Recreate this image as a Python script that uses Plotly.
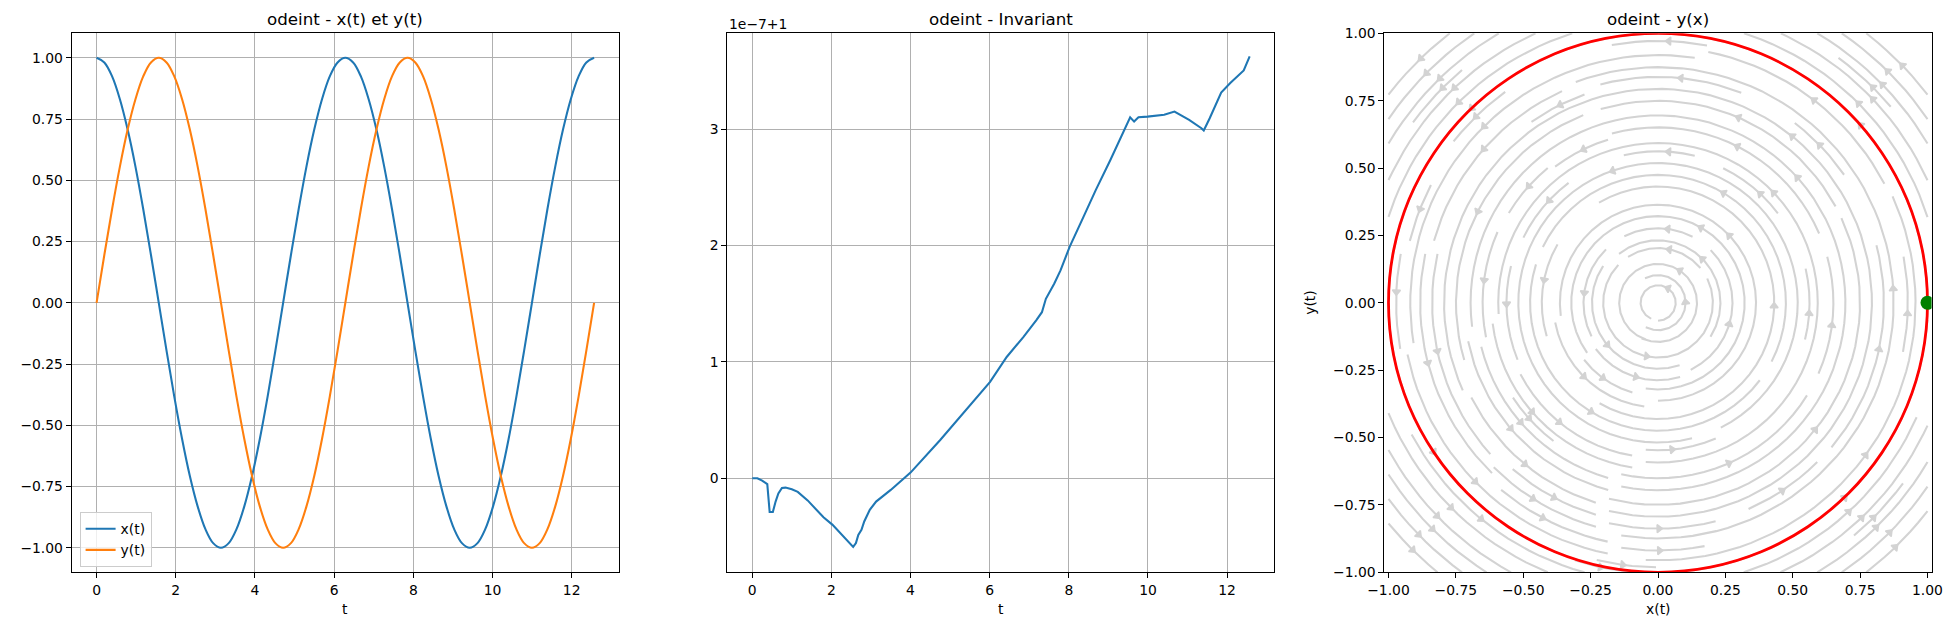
import numpy as np
import plotly.graph_objects as go

# ---------------- data ----------------
t_vals = [0.0, 0.196, 0.393, 0.589, 0.785, 0.982, 1.178, 1.374, 1.571, 1.767, 1.963,
          2.160, 2.356, 2.553, 2.749, 2.945, 3.142, 3.338, 3.534, 3.731, 3.927, 4.123,
          4.320, 4.516, 4.712, 4.909, 5.105, 5.301, 5.498, 5.694, 5.890, 6.087, 6.283,
          6.480, 6.676, 6.872, 7.069, 7.265, 7.461, 7.658, 7.854, 8.050, 8.247, 8.443,
          8.639, 8.836, 9.032, 9.228, 9.425, 9.621, 9.817, 10.014, 10.210, 10.407,
          10.603, 10.799, 10.996, 11.192, 11.388, 11.585, 11.781, 11.977, 12.174,
          12.370, 12.566]
x_vals = [1.0, 0.981, 0.924, 0.831, 0.707, 0.556, 0.383, 0.195, 0.0, -0.195, -0.383,
          -0.556, -0.707, -0.831, -0.924, -0.981, -1.0,
          -0.981, -0.924, -0.831, -0.707, -0.556, -0.383, -0.195, 0.0, 0.195, 0.383,
          0.556, 0.707, 0.831, 0.924, 0.981, 1.0,
          0.981, 0.924, 0.831, 0.707, 0.556, 0.383, 0.195, 0.0, -0.195, -0.383,
          -0.556, -0.707, -0.831, -0.924, -0.981, -1.0,
          -0.981, -0.924, -0.831, -0.707, -0.556, -0.383, -0.195, 0.0, 0.195, 0.383,
          0.556, 0.707, 0.831, 0.924, 0.981, 1.0]
y_vals = [0.0, 0.195, 0.383, 0.556, 0.707, 0.831, 0.924, 0.981, 1.0,
          0.981, 0.924, 0.831, 0.707, 0.556, 0.383, 0.195, 0.0,
          -0.195, -0.383, -0.556, -0.707, -0.831, -0.924, -0.981, -1.0,
          -0.981, -0.924, -0.831, -0.707, -0.556, -0.383, -0.195, 0.0,
          0.195, 0.383, 0.556, 0.707, 0.831, 0.924, 0.981, 1.0,
          0.981, 0.924, 0.831, 0.707, 0.556, 0.383, 0.195, 0.0,
          -0.195, -0.383, -0.556, -0.707, -0.831, -0.924, -0.981, -1.0,
          -0.981, -0.924, -0.831, -0.707, -0.556, -0.383, -0.195, 0.0]

# invariant x^2+y^2, shown as offset from 1 in units of 1e-7
inv_t = [0, 0.13, 0.25, 0.38, 0.44, 0.52, 0.59, 0.66, 0.75, 0.84, 1.0, 1.15, 1.4, 1.61,
         1.8, 2.03, 2.25, 2.45, 2.55, 2.62, 2.68, 2.76, 2.83, 2.97, 3.13, 3.5, 4.0, 4.75,
         5.59, 6.01, 6.43, 6.85, 7.18, 7.32, 7.42, 7.63, 7.79, 8.02, 8.37, 8.68, 9.05,
         9.36, 9.55, 9.65, 9.76, 9.99, 10.41, 10.67, 11.04, 11.35, 11.41, 11.56, 11.85,
         12.08, 12.42, 12.57]
inv_dev = [0.0, 0.0, -0.02, -0.05, -0.29, -0.29, -0.2, -0.13, -0.083, -0.08, -0.095,
           -0.117, -0.19, -0.27, -0.335, -0.40, -0.48, -0.557, -0.59, -0.557, -0.486,
           -0.443, -0.371, -0.271, -0.2, -0.1, 0.049, 0.329, 0.657, 0.829, 1.043, 1.214,
           1.36, 1.428, 1.543, 1.672, 1.787, 1.989, 2.247, 2.477, 2.736, 2.966, 3.103,
           3.066, 3.103, 3.109, 3.124, 3.152, 3.08, 3.009, 2.989, 3.095, 3.316, 3.397,
           3.506, 3.626]

start_point = ([1.0], [0.0])

t_ticks = [0, 2, 4, 6, 8, 10, 12]
xy_ticks = [-1.0, -0.75, -0.5, -0.25, 0.0, 0.25, 0.5, 0.75, 1.0]
inv_ticks = [0, 1, 2, 3]

titles = ["odeint - x(t) et y(t)", "odeint - Invariant", "odeint - y(x)"]

# vector field of the ODE: dx/dt = -y, dy/dt = x
grid_n = 20
grid_x = np.linspace(-1, 1, grid_n)
grid_y = np.linspace(-1, 1, grid_n)
GX, GY = np.meshgrid(grid_x, grid_y)
U = -GY
V = GX
stream_density = 1.5


# ---------------- streamline computation (matplotlib-like algorithm) ----------------
class _Invalid(Exception):
    pass


class _OOB(Exception):
    pass


class _Term(Exception):
    pass


def compute_streamlines(gx, gy, U, V, density):
    ny, nx = U.shape
    dx = gx[1] - gx[0]
    dy = gy[1] - gy[0]
    mnx = int(30 * density)
    mny = int(30 * density)
    mask = np.zeros((mny, mnx), dtype=int)
    g2m_x = (mnx - 1) / (nx - 1)
    g2m_y = (mny - 1) / (ny - 1)
    ug = U / dx
    vg = V / dy
    spd = np.sqrt((ug / (nx - 1)) ** 2 + (vg / (ny - 1)) ** 2)
    state = {"traj": [], "cur": None}

    def within(xi, yi):
        return 0 <= xi <= nx - 1 and 0 <= yi <= ny - 1

    def interp(a, xi, yi):
        x = int(xi)
        y = int(yi)
        xn = x if x == nx - 1 else x + 1
        yn = y if y == ny - 1 else y + 1
        xt = xi - x
        yt = yi - y
        a0 = a[y, x] * (1 - xt) + a[y, xn] * xt
        a1 = a[yn, x] * (1 - xt) + a[yn, xn] * xt
        return a0 * (1 - yt) + a1 * yt

    def g2m(xi, yi):
        return round(xi * g2m_x), round(yi * g2m_y)

    def mask_update(xm, ym):
        if state["cur"] != (xm, ym):
            if mask[ym, xm] == 0:
                state["traj"].append((ym, xm))
                mask[ym, xm] = 1
                state["cur"] = (xm, ym)
            else:
                raise _Invalid

    def update_traj(xi, yi):
        if not within(xi, yi):
            raise _Invalid
        xm, ym = g2m(xi, yi)
        mask_update(xm, ym)

    def fwd(xi, yi):
        if not within(xi, yi):
            raise _OOB
        s = interp(spd, xi, yi)
        if s == 0:
            raise _Term
        return interp(ug, xi, yi) / s, interp(vg, xi, yi) / s

    def bwd(xi, yi):
        a, b = fwd(xi, yi)
        return -a, -b

    def euler(traj, f):
        xi, yi = traj[-1]
        cx, cy = f(xi, yi)
        if cx == 0:
            dsx = np.inf
        elif cx < 0:
            dsx = xi / -cx
        else:
            dsx = (nx - 1 - xi) / cx
        if cy == 0:
            dsy = np.inf
        elif cy < 0:
            dsy = yi / -cy
        else:
            dsy = (ny - 1 - yi) / cy
        ds = min(dsx, dsy)
        traj.append((xi + cx * ds, yi + cy * ds))
        return ds

    def rk12(x0, y0, f, maxlength=4.0):
        maxerror = 0.003
        maxds = min(1.0 / mnx, 1.0 / mny, 0.1)
        ds = maxds
        stotal = 0.0
        xi, yi = x0, y0
        traj = []
        while True:
            try:
                if within(xi, yi):
                    traj.append((xi, yi))
                else:
                    raise _OOB
                k1x, k1y = f(xi, yi)
                k2x, k2y = f(xi + ds * k1x, yi + ds * k1y)
            except _OOB:
                if traj:
                    try:
                        stotal += euler(traj, f)
                    except (_OOB, _Term):
                        pass
                break
            except _Term:
                break
            dx1 = ds * k1x
            dy1 = ds * k1y
            dx2 = ds * 0.5 * (k1x + k2x)
            dy2 = ds * 0.5 * (k1y + k2y)
            err = np.hypot((dx2 - dx1) / (nx - 1), (dy2 - dy1) / (ny - 1))
            if err < maxerror:
                xi += dx2
                yi += dy2
                try:
                    update_traj(xi, yi)
                except _Invalid:
                    break
                if stotal + ds > maxlength:
                    break
                stotal += ds
            if err == 0:
                ds = maxds
            else:
                ds = min(maxds, 0.85 * ds * (maxerror / err) ** 0.5)
        return stotal, traj

    def integrate(x0, y0, minlength=0.1):
        state["traj"] = []
        try:
            xm, ym = g2m(x0, y0)
            mask_update(xm, ym)
        except _Invalid:
            return None
        stotal = 0.0
        out = []
        s, t = rk12(x0, y0, bwd)
        stotal += s
        out += t[::-1]
        state["cur"] = g2m(x0, y0)
        s, t = rk12(x0, y0, fwd)
        stotal += s
        out += t[1:]
        if stotal > minlength:
            return out
        for c in state["traj"]:
            mask[c] = 0
        return None

    def seeds(shape):
        sny, snx = shape
        xfirst, yfirst = 0, 1
        xlast, ylast = snx - 1, sny - 1
        x, y = 0, 0
        direction = "right"
        for _ in range(snx * sny):
            yield x, y
            if direction == "right":
                x += 1
                if x >= xlast:
                    xlast -= 1
                    direction = "up"
            elif direction == "up":
                y += 1
                if y >= ylast:
                    ylast -= 1
                    direction = "left"
            elif direction == "left":
                x -= 1
                if x <= xfirst:
                    xfirst += 1
                    direction = "down"
            elif direction == "down":
                y -= 1
                if y <= yfirst:
                    yfirst += 1
                    direction = "right"

    trajectories = []
    for xm, ym in seeds(mask.shape):
        if mask[ym, xm] == 0:
            xg0 = xm / g2m_x
            yg0 = ym / g2m_y
            tr = integrate(xg0, yg0)
            if tr is not None:
                trajectories.append(tr)

    lines_x, lines_y, arrows = [], [], []
    for tr in trajectories:
        arr = np.array(tr)
        tx = gx[0] + arr[:, 0] * dx
        ty = gy[0] + arr[:, 1] * dy
        lines_x += list(tx) + [None]
        lines_y += list(ty) + [None]
        s = np.cumsum(np.hypot(np.diff(tx), np.diff(ty)))
        if len(s) == 0:
            continue
        n = int(np.searchsorted(s, s[-1] / 2.0))
        tail = (tx[n], ty[n])
        head = (np.mean(tx[n:n + 2]), np.mean(ty[n:n + 2]))
        arrows.append((tail, head))
    return lines_x, lines_y, arrows


sl_x, sl_y, sl_arrows = compute_streamlines(grid_x, grid_y, U, V, stream_density)

# ---------------- layout geometry ----------------
W, H = 1955, 627
dom_x = [[71.7 / W, 619.0 / W], [727.4 / W, 1274.4 / W], [1384.4 / W, 1931.6 / W]]
dom_y = [1 - 572.3 / H, 1 - 33.3 / H]
px_per_unit3 = 539.0 / 2.0   # panel 3 pixels per data unit

arrow_x, arrow_y, arrow_ang = [], [], []
r_tip = 3.5 / px_per_unit3
for (tail, head) in sl_arrows:
    ddx = head[0] - tail[0]
    ddy = head[1] - tail[1]
    nrm = np.hypot(ddx, ddy)
    if nrm == 0:
        continue
    ux, uy = ddx / nrm, ddy / nrm
    arrow_x.append(head[0] - ux * r_tip)
    arrow_y.append(head[1] - uy * r_tip)
    arrow_ang.append(float(np.degrees(np.arctan2(ux, uy))))

BLUE = "#1f77b4"
ORANGE = "#ff7f0e"
GRAY = "#d3d3d3"
FONT = "DejaVu Sans"
lw = 2.08

fig = go.Figure()

# panel 1
fig.add_trace(go.Scatter(x=t_vals, y=x_vals, mode="lines", name="x(t)",
                         line=dict(color=BLUE, width=lw, shape="spline"),
                         xaxis="x", yaxis="y"))
fig.add_trace(go.Scatter(x=t_vals, y=y_vals, mode="lines", name="y(t)",
                         line=dict(color=ORANGE, width=lw, shape="spline"),
                         xaxis="x", yaxis="y"))
# panel 2
fig.add_trace(go.Scatter(x=inv_t, y=inv_dev, mode="lines", showlegend=False,
                         line=dict(color=BLUE, width=lw),
                         xaxis="x2", yaxis="y2"))
# panel 3
fig.add_trace(go.Scatter(x=sl_x, y=sl_y, mode="lines", showlegend=False,
                         line=dict(color=GRAY, width=lw), hoverinfo="skip",
                         xaxis="x3", yaxis="y3"))
fig.add_trace(go.Scatter(x=arrow_x, y=arrow_y, mode="markers", showlegend=False,
                         marker=dict(symbol="triangle-up", size=7, angle=arrow_ang,
                                     color=GRAY, line=dict(color=GRAY, width=1.5)),
                         hoverinfo="skip", xaxis="x3", yaxis="y3"))
fig.add_trace(go.Scatter(x=x_vals, y=y_vals, mode="lines", showlegend=False,
                         line=dict(color="#ff0000", width=2.8, shape="spline"),
                         xaxis="x3", yaxis="y3"))
fig.add_trace(go.Scatter(x=start_point[0], y=start_point[1], mode="markers",
                         showlegend=False,
                         marker=dict(color="#008000", size=14),
                         xaxis="x3", yaxis="y3"))


def fmt(v):
    s = f"{abs(v):.2f}"
    return ("\u2212" + s) if v < 0 else s


axis_common = dict(showline=True, mirror=True, linecolor="black", linewidth=1.1,
                   gridcolor="#b0b0b0", gridwidth=1.1, zeroline=False,
                   ticks="outside", ticklen=4.9, tickwidth=1.1, tickcolor="black",
                   automargin=False,
                   tickfont=dict(family=FONT, size=13.9, color="black"))

fig.update_layout(
    template="none",
    width=W, height=H, autosize=False,
    margin=dict(l=0, r=0, t=0, b=0, pad=0),
    paper_bgcolor="white", plot_bgcolor="white",
    font=dict(family=FONT, size=13.9, color="black"),
    xaxis=dict(domain=dom_x[0], range=[-0.628, 13.195], tickvals=t_ticks,
               ticktext=[str(v) for v in t_ticks], anchor="y", showgrid=True,
               **axis_common),
    yaxis=dict(domain=dom_y, range=[-1.1, 1.1],
               tickvals=xy_ticks, ticktext=[fmt(v) for v in xy_ticks],
               anchor="x", showgrid=True, **axis_common),
    xaxis2=dict(domain=dom_x[1], range=[-0.628, 13.195], tickvals=t_ticks,
                ticktext=[str(v) for v in t_ticks], anchor="y2", showgrid=True,
                **axis_common),
    yaxis2=dict(domain=dom_y, range=[-0.808, 3.825], tickvals=inv_ticks,
                ticktext=[str(v) for v in inv_ticks], anchor="x2", showgrid=True,
                **axis_common),
    xaxis3=dict(domain=dom_x[2], range=[-1.0152, 1.0152], tickvals=xy_ticks,
                ticktext=[fmt(v) for v in xy_ticks], anchor="y3", showgrid=False,
                **axis_common),
    yaxis3=dict(domain=dom_y, range=[-1.0, 1.0], tickvals=xy_ticks,
                ticktext=[fmt(v) for v in xy_ticks], anchor="x3", showgrid=False,
                **axis_common),
    legend=dict(x=79.6 / W, y=1 - 512.3 / H, xanchor="left", yanchor="top",
                bgcolor="rgba(255,255,255,0.8)", bordercolor="#cccccc", borderwidth=1,
                font=dict(family=FONT, size=13.9, color="black"),
                tracegroupgap=0),
    showlegend=True,
)

ann = []
for i, title in enumerate(titles):
    cx = (dom_x[i][0] + dom_x[i][1]) / 2
    ann.append(dict(text=title, x=cx, y=1 - 19.0 / H, xref="paper", yref="paper",
                    xanchor="center", yanchor="middle", showarrow=False,
                    font=dict(family=FONT, size=16.7, color="black")))
for i, lab in enumerate(["t", "t", "x(t)"]):
    cx = (dom_x[i][0] + dom_x[i][1]) / 2
    ann.append(dict(text=lab, x=cx, y=1 - 609.0 / H, xref="paper", yref="paper",
                    xanchor="center", yanchor="middle", showarrow=False,
                    font=dict(family=FONT, size=13.9, color="black")))
ann.append(dict(text="y(t)", x=1310.0 / W, y=(dom_y[0] + dom_y[1]) / 2,
                xref="paper", yref="paper", xanchor="center", yanchor="middle",
                textangle=-90, showarrow=False,
                font=dict(family=FONT, size=13.9, color="black")))
ann.append(dict(text="1e\u22127+1", x=727.4 / W, y=1 - 24.0 / H, xref="paper",
                yref="paper", xanchor="left", yanchor="middle", showarrow=False,
                font=dict(family=FONT, size=13.9, color="black")))
fig.update_layout(annotations=ann)

fig.write_html("out.html",
               config={"displayModeBar": False},
               post_script="document.body.style.margin='0';"
                           "document.body.style.overflow='hidden';")
